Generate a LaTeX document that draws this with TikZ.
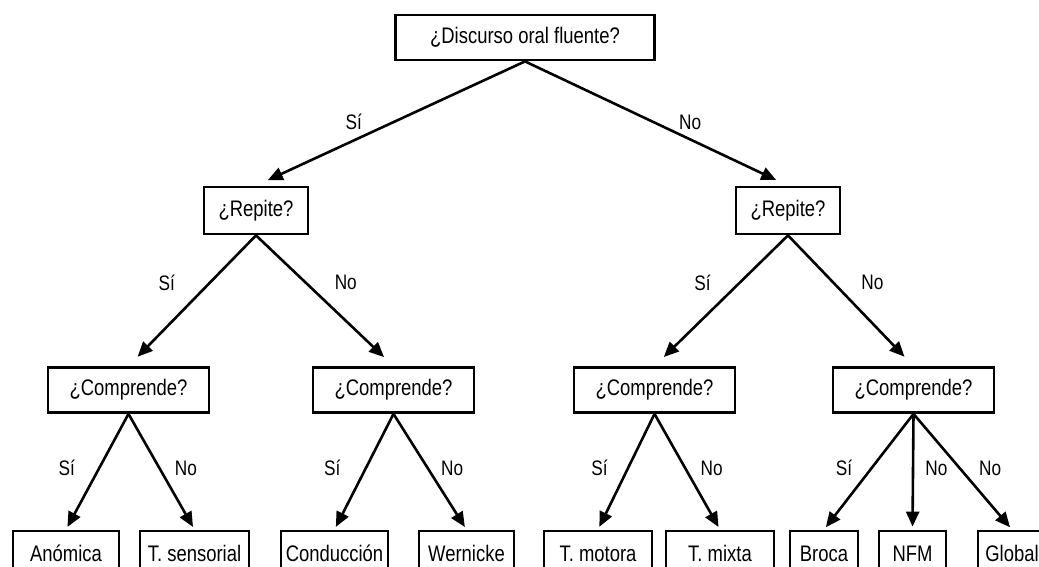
\documentclass[tikz,border=0pt]{standalone}
\usepackage{fontspec}
\setmainfont{Liberation Sans}[FakeStretch=0.82]
\usetikzlibrary{arrows.meta, positioning}
\tikzset{
  pregunta/.style={rectangle, draw=black, line width=2.8pt, fill=white, align=center, font=\fontsize{22.5}{26}\selectfont, minimum height=45pt, inner sep=2pt},
  sindrome/.style={pregunta, minimum height=45pt},
  flecha/.style={-{Triangle[length=15pt, width=13pt]}, line width=2.6pt, shorten >=13pt},
  hoja/.style={flecha, shorten >=3pt},
  resp/.style={font=\fontsize{21}{24}\selectfont, inner sep=0pt},
}
\begin{document}
\begin{tikzpicture}[x=1pt, y=-1pt]
\useasboundingbox (0,0) rectangle (1039,567);
% preguntas
\node[pregunta, minimum width=259pt] (raiz) at (525,37.5) {¿Discurso oral fluente?};
\node[pregunta, minimum width=104pt, minimum height=47pt] (repSi) at (256,210.5) {¿Repite?};
\node[pregunta, minimum width=104pt, minimum height=47pt] (repNo) at (788,210.5) {¿Repite?};
\node[pregunta, minimum width=161pt] (comSiSi) at (128.5,390) {¿Comprende?};
\node[pregunta, minimum width=161pt] (comSiNo) at (393.5,390) {¿Comprende?};
\node[pregunta, minimum width=161pt] (comNoSi) at (654.5,390) {¿Comprende?};
\node[pregunta, minimum width=161pt] (comNoNo) at (913.5,390) {¿Comprende?};
% sindromes
\node[sindrome, minimum width=106pt] (anomica) at (66,553.5) {Anómica};
\node[sindrome, minimum width=109pt] (tsens) at (194.5,553.5) {T. sensorial};
\node[sindrome, minimum width=107pt] (conduccion) at (334.5,553.5) {Conducción};
\node[sindrome, minimum width=95pt] (wernicke) at (466.5,553.5) {Wernicke};
\node[sindrome, minimum width=108pt] (tmotora) at (598,553.5) {T. motora};
\node[sindrome, minimum width=108pt] (tmixta) at (720,553.5) {T. mixta};
\node[sindrome, minimum width=68pt] (broca) at (824,553.5) {Broca};
\node[sindrome, minimum width=67pt] (nfm) at (912.5,553.5) {NFM};
\node[sindrome, minimum width=68pt] (global) at (1012,553.5) {Global};
% flechas
\draw[flecha] (raiz.south) -- node[resp, pos=0.49, left=30pt] {Sí} (repSi.north);
\draw[flecha] (raiz.south) -- node[resp, pos=0.49, right=24pt] {No} (repNo.north);
\draw[flecha] (repSi.south) -- node[resp, pos=0.36, left=34pt] {Sí} (comSiSi.north);
\draw[flecha] (repSi.south) -- node[resp, pos=0.36, right=28pt] {No} (comSiNo.north);
\draw[flecha] (repNo.south) -- node[resp, pos=0.36, left=28pt] {Sí} (comNoSi.north);
\draw[flecha] (repNo.south) -- node[resp, pos=0.36, right=27pt] {No} (comNoNo.north);
\draw[hoja] (comSiSi.south) -- node[resp, pos=0.47, left=23pt] {Sí} (anomica.north);
\draw[hoja] (comSiSi.south) -- node[resp, pos=0.47, right=14pt] {No} (tsens.north);
\draw[hoja] (comSiNo.south) -- node[resp, pos=0.47, left=24pt] {Sí} (conduccion.north);
\draw[hoja] (comSiNo.south) -- node[resp, pos=0.47, right=12pt] {No} (wernicke.north);
\draw[hoja] (comNoSi.south) -- node[resp, pos=0.47, left=19pt] {Sí} (tmotora.north);
\draw[hoja] (comNoSi.south) -- node[resp, pos=0.47, right=14pt] {No} (tmixta.north);
\draw[hoja] (comNoNo.south) -- node[resp, pos=0.47, left=18pt] {Sí} (broca.north);
\draw[hoja] (comNoNo.south) -- node[resp, pos=0.47, right=11pt] {No} (nfm.north);
\draw[hoja] (comNoNo.south) -- node[resp, pos=0.47, right=18pt] {No} (global.north);
\end{tikzpicture}
\end{document}
